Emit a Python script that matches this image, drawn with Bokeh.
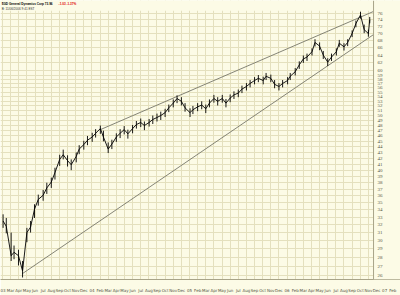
import pandas as pd
from bokeh.plotting import figure
from bokeh.models import Range1d, FixedTicker, Label, LabelSet, BoxAnnotation, Span, ColumnDataSource
from bokeh.embed import file_html
from bokeh.resources import INLINE

dates = ["2003-02-03", "2003-02-14", "2003-03-03", "2003-03-14", "2003-03-31", "2003-04-15",
         "2003-05-01", "2003-05-15", "2003-05-30", "2003-06-13", "2003-07-01", "2003-07-15",
         "2003-08-01", "2003-08-15", "2003-09-02", "2003-09-15", "2003-10-01", "2003-10-15",
         "2003-11-03", "2003-11-14", "2003-12-01", "2003-12-15", "2004-01-02", "2004-01-15",
         "2004-02-02", "2004-02-13", "2004-03-01", "2004-03-15", "2004-04-01", "2004-04-15",
         "2004-04-30", "2004-05-14", "2004-06-01", "2004-06-15", "2004-07-01", "2004-07-15",
         "2004-08-02", "2004-08-16", "2004-09-01", "2004-09-15", "2004-10-01", "2004-10-15",
         "2004-11-01", "2004-11-15", "2004-12-01", "2004-12-15", "2005-01-03", "2005-01-14",
         "2005-02-01", "2005-02-15", "2005-03-01", "2005-03-15", "2005-04-01", "2005-04-15",
         "2005-05-02", "2005-05-16", "2005-06-01", "2005-06-15", "2005-07-01", "2005-07-15",
         "2005-08-01", "2005-08-15", "2005-09-01", "2005-09-15", "2005-10-03", "2005-10-14",
         "2005-11-01", "2005-11-15", "2005-12-01", "2005-12-15", "2006-01-03", "2006-01-13",
         "2006-02-01", "2006-02-15", "2006-03-01", "2006-03-15", "2006-04-03", "2006-04-14",
         "2006-05-01", "2006-05-15", "2006-06-01", "2006-06-15", "2006-07-03", "2006-07-14",
         "2006-08-01", "2006-08-15", "2006-09-01", "2006-09-15", "2006-10-02", "2006-10-16",
         "2006-11-01", "2006-11-06"]
closes = [32.5, 31.8, 28.2, 28.6, 28.2, 26.5, 31.0, 31.7, 34.1, 35.5, 36.1, 37.2,
          38.1, 39.6, 41.8, 42.6, 41.6, 40.9, 42.3, 43.6, 44.4, 45.2, 45.8, 46.5,
          47.4, 45.8, 43.6, 44.5, 45.8, 46.5, 47.2, 46.4, 47.4, 48.2, 48.6, 48.0,
          48.6, 49.2, 49.6, 50.0, 50.6, 51.6, 52.6, 53.6, 53.0, 51.6, 50.6, 51.2,
          51.8, 52.2, 51.4, 52.6, 53.6, 53.0, 53.6, 52.6, 53.7, 54.4, 54.8, 55.7,
          56.3, 57.0, 57.7, 58.2, 57.7, 58.7, 58.2, 56.8, 56.3, 57.0, 57.7, 58.7,
          59.8, 61.5, 63.0, 63.5, 64.9, 67.4, 66.4, 64.0, 62.2, 63.5, 64.9, 67.2,
          66.2, 67.4, 69.9, 72.8, 75.4, 71.0, 69.9, 73.96]
highs = [33.4, 32.9, 31.0, 29.4, 28.9, 27.6, 31.6, 32.5, 34.8, 36.2, 36.9, 38.0,
         38.8, 40.4, 42.6, 43.5, 42.5, 41.8, 43.0, 44.3, 45.1, 46.0, 46.6, 47.3,
         48.0, 47.0, 44.8, 45.3, 46.5, 47.3, 47.9, 47.2, 48.1, 48.9, 49.4, 48.8,
         49.3, 50.0, 50.4, 50.8, 51.4, 52.3, 53.4, 54.3, 53.9, 52.6, 51.5, 52.0,
         52.6, 53.0, 52.3, 53.4, 54.4, 53.9, 54.4, 53.5, 54.5, 55.2, 55.6, 56.5,
         57.1, 57.8, 58.5, 59.0, 58.6, 59.5, 59.1, 57.8, 57.1, 57.8, 58.5, 59.5,
         60.7, 62.4, 63.9, 64.4, 65.8, 68.3, 67.4, 65.1, 63.2, 64.4, 65.8, 68.1,
         67.2, 68.3, 70.8, 73.7, 76.4, 72.5, 71.0, 74.8]
lows = [31.6, 30.9, 27.6, 27.8, 27.1, 25.8, 29.8, 31.0, 32.9, 34.6, 35.3, 36.3,
        37.2, 38.5, 40.7, 41.8, 40.6, 40.0, 41.3, 42.7, 43.5, 44.3, 44.9, 45.7,
        46.4, 45.0, 42.9, 43.6, 44.9, 45.6, 46.3, 45.5, 46.5, 47.4, 47.7, 47.1,
        47.8, 48.3, 48.8, 49.1, 49.7, 50.7, 51.7, 52.6, 52.1, 50.8, 49.7, 50.3,
        50.9, 51.3, 50.5, 51.7, 52.7, 52.1, 52.7, 51.7, 52.8, 53.5, 53.9, 54.8,
        55.4, 56.1, 56.8, 57.3, 56.8, 57.8, 57.3, 55.9, 55.4, 56.1, 56.8, 57.8,
        58.9, 60.5, 62.0, 62.5, 63.9, 66.3, 65.3, 63.0, 61.2, 62.5, 63.9, 66.2,
        65.2, 66.4, 68.9, 71.7, 74.3, 70.0, 69.0, 72.9]

# trendlines (start / end)
upper_dates = ["2004-02-02", "2006-11-20"]
upper_vals = [47.2, 76.5]
lower_dates = ["2003-04-14", "2006-11-20"]
lower_vals = [26.2, 69.6]

# axis ticks
month_labels = ["03", "Mar", "Apr", "May", "Jun", "Jul", "Aug", "Sep", "Oct", "Nov", "Dec",
                "04", "Feb", "Mar", "Apr", "May", "Jun", "Jul", "Aug", "Sep", "Oct", "Nov", "Dec",
                "05", "Feb", "Mar", "Apr", "May", "Jun", "Jul", "Aug", "Sep", "Oct", "Nov", "Dec",
                "06", "Feb", "Mar", "Apr", "May", "Jun", "Jul", "Aug", "Sep", "Oct", "Nov", "Dec",
                "07", "Feb"]
price_ticks = list(range(26, 61)) + list(range(62, 77, 2))

title_main = "$GD General Dynamics Corp  73.96"
title_change = "-1.03  -1.37%"
title_sub = "B: 11/06/2006  9:41 EST"

chart_end = "2006-11-20"   # right edge of the price panel


def mpos(s):
    d = pd.Timestamp(s)
    return (d.year - 2003) * 12 + (d.month - 2) + (d.day - 1) / d.days_in_month


xs = [mpos(d) for d in dates]
src = ColumnDataSource(dict(x=xs, c=closes, h=highs, l=lows))
xend = mpos(chart_end)

BG = "#FCFBE6"
GRID = "#E4E0BE"
TXT = "#555544"

p = figure(width=400, height=295, output_backend="svg", toolbar_location=None,
           y_axis_type="log",
           x_range=Range1d(-0.246, 48.95), y_range=Range1d(25.59, 80.0),
           min_border_left=0, min_border_right=0, min_border_top=0, min_border_bottom=8)
p.background_fill_color = BG
p.border_fill_color = BG
p.outline_line_color = None
p.yaxis.visible = False

n_lab = len(month_labels)
p.xaxis.ticker = FixedTicker(ticks=list(range(n_lab)))
p.xaxis.major_label_overrides = {i: month_labels[i] for i in range(n_lab)}
p.xaxis.major_label_text_font_size = "4px"
p.xaxis.major_label_text_color = TXT
p.xaxis.major_label_text_font = "DejaVu Sans"
p.xaxis.axis_line_color = "#A8A488"
p.xaxis.major_tick_line_color = None
p.xaxis.minor_tick_line_color = None
p.xaxis.major_label_standoff = 2

p.xgrid.ticker = FixedTicker(ticks=list(range(n_lab)))
p.ygrid.ticker = FixedTicker(ticks=price_ticks)
p.xgrid.grid_line_color = GRID
p.ygrid.grid_line_color = GRID

# trendlines
p.line([mpos(d) for d in upper_dates], upper_vals, line_color="#77776A", line_width=0.9)
p.line([mpos(d) for d in lower_dates], lower_vals, line_color="#77776A", line_width=0.9)

# price bars
p.segment(x0="x", y0="l", x1="x", y1="h", source=src, line_color="black", line_width=0.9)
p.line(x="x", y="c", source=src, line_color="black", line_width=0.9)

# title band and price-scale column
p.add_layout(BoxAnnotation(bottom=76.7, fill_color=BG, fill_alpha=1.0, line_color=None))
p.add_layout(BoxAnnotation(left=xend, fill_color=BG, fill_alpha=1.0, line_color=None))
p.add_layout(Span(location=xend, dimension="height", line_color="#A8A488", line_width=1))

p.add_layout(Label(x=-0.1, y=78.8, text=title_main, text_font_size="3.1px",
                   text_font_style="bold", text_baseline="middle", text_color="black"))
p.add_layout(Label(x=6.9, y=78.8, text=title_change, text_font_size="3.1px",
                   text_font_style="bold", text_baseline="middle", text_color="#DD0000"))
p.add_layout(Label(x=-0.1, y=77.4, text=title_sub, text_font_size="3.1px",
                   text_baseline="middle", text_color="#333333"))

tick_src = ColumnDataSource(dict(x=[xend] * len(price_ticks), y=price_ticks,
                                 t=[str(t) for t in price_ticks]))
p.add_layout(LabelSet(x="x", y="y", text="t", source=tick_src, x_offset=4,
                      text_font_size="5px", text_baseline="middle", text_color=TXT,
                      text_font="DejaVu Sans"))

open("out.html", "w").write(file_html(p, INLINE))
